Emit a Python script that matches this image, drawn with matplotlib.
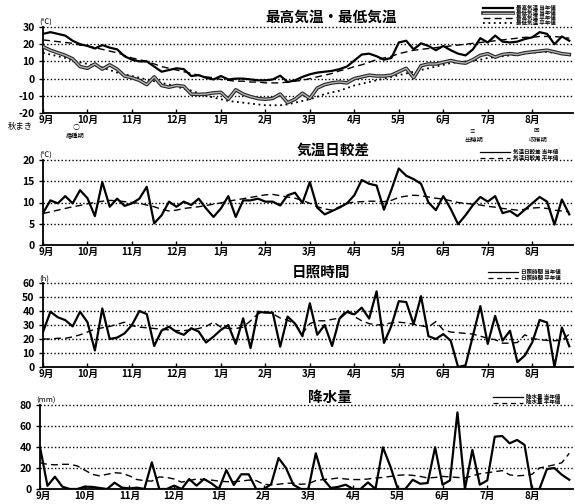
import matplotlib.pyplot as plt
import numpy as np
from matplotlib.lines import Line2D
from matplotlib.transforms import ScaledTranslation

plt.rcParams["font.family"] = ["Noto Sans CJK JP", "DejaVu Sans"]

W, H = 575, 504

MONTHS = ["9月", "10月", "11月", "12月", "1月", "2月", "3月", "4月", "5月", "6月", "7月", "8月"]

# 半旬 (5-day) values, September through August
max_temp = [
    26, 27, 26, 25, 22, 20, 19, 17.5, 19.5, 18, 17, 13,
    11, 10, 10, 7, 4, 5, 6, 5.5, 1.5, 2, 0.5, -0.5,
    1.5, -0.5, 0, 0, -0.5, -1, -1, -0.5, 1.7, -2, -1, 1,
    2.5, 3.5, 4, 4.5, 5.5, 7, 10.5, 14, 14.5, 13, 11, 12,
    21, 22, 17, 20.5, 19, 16.5, 19, 16.5, 14.5, 13.5, 17, 23.5,
    21, 25, 21.5, 21, 21.5, 23, 24, 27, 26, 20, 24.5, 22,
]
max_temp_normal = [
    22.5, 22, 21.5, 21, 20.5, 19.5, 19, 18, 17, 16, 15, 13.5,
    12, 11, 10, 8.5, 7, 6, 5, 4, 3, 2, 1, 0.5,
    -0.5, -1, -1.5, -1.5, -2, -2, -2.5, -2.5, -2.5, -2, -1.5, -1,
    0, 1, 2, 3, 4.5, 5.5, 7, 8, 9.5, 11, 12, 13,
    14.5, 15.5, 16.5, 17, 17.5, 18, 18.5, 19, 19.5, 20, 20.5, 21,
    21.5, 22, 22.5, 23, 23.5, 24, 24, 24.5, 24.5, 24.5, 24, 23.5,
]
min_temp = [
    18.5, 16.5, 15, 13.5, 11.5, 7, 6, 8.5, 5.5, 8, 5.5, 1.5,
    0.5, -1, -3.5, 1, -4, -5, -4, -4.5, -9, -9.2, -9, -8.3,
    -8, -12, -6.5, -9, -10.5, -11.6, -12, -11.5, -9, -14, -12, -8.5,
    -11.5, -5.5, -3.5, -2.5, -2, -2.5, 0, 1, 2, 1.5, 1.5, 2,
    4, 6, 0.5, 7.5, 8.5, 8.5, 9.5, 10.5, 9.5, 9, 11, 13.5,
    14.5, 12.5, 14, 14.5, 14, 15, 15.5, 16, 16.5, 15.5, 14.5, 14,
]
min_temp_normal = [
    15, 14, 13, 12, 10.5, 9.5, 8.5, 7.5, 6.5, 5, 3.5, 2.5,
    1.5, 0.5, -0.5, -1.5, -2.5, -3.5, -4.5, -6, -7, -8.5, -10, -11,
    -12, -13, -13.5, -14, -14.5, -15, -15.5, -15.5, -15.5, -15, -14, -13,
    -12, -10.5, -9, -8, -7, -5.5, -4, -3, -2, -1, 0, 1,
    2, 3, 4, 5, 6, 7, 8, 9, 9.5, 10, 10.5, 11,
    12, 12.5, 13, 13.5, 14, 14.5, 15, 15.5, 15.5, 15, 14.5, 14,
]
temp_range = [
    7.5, 10.5, 9.8, 11.5, 9.8, 12.9, 11, 6.8, 14.8, 9, 10.9, 9.2,
    9.8, 10.9, 13.7, 5.1, 7, 10.2, 9, 10.2, 9.4, 10.9, 8.6, 6.6,
    8.6, 11.5, 6.6, 10.5, 10.5, 10.9, 10.2, 10.2, 9.3, 11.7, 12.3, 9.9,
    14.8, 8.8, 7.2, 8, 8.8, 9.8, 11.7, 15.3, 14.4, 14, 8.3, 13,
    18, 16.3, 15.5, 14.4, 10, 8.2, 11.5, 8.5, 4.9, 7, 9.4, 11.3,
    10.2, 11.5, 7.5, 8, 6.8, 8.3, 9.8, 11.3, 10.2, 4.8, 10.7, 7.2,
]
temp_range_normal = [
    7.4, 7.8, 8.2, 8.6, 9.0, 9.3, 9.7, 10.0, 10.3, 10.5, 10.4, 10.2,
    10.0, 9.8, 9.4, 9.0, 8.4, 8.0, 8.2, 8.6, 8.8, 9.0, 9.3, 9.6,
    9.9, 10.3, 10.6, 10.9, 11.2, 11.5, 11.8, 11.9, 11.6, 11.3, 11.0, 10.5,
    9.8, 9.0, 8.5, 8.2, 9.0, 9.8, 10.1, 10.2, 10.3, 10.3, 10.2, 10.5,
    11.2, 11.5, 11.7, 11.6, 11.3, 11.0, 10.8, 10.4, 10.0, 9.8, 9.6, 9.4,
    9.1, 8.9, 8.6, 8.4, 8.2, 8.4, 8.7, 8.8, 8.6, 8.2, 8.0, 7.8,
]
sunshine = [
    25, 39.5, 35.5, 33.5, 29, 39.5, 32, 11.8, 41.8, 20, 21, 24,
    30, 40, 37.8, 15, 26, 28.8, 25, 23, 27.7, 25.3, 17.5, 21.7,
    26.5, 30, 16.5, 34.8, 13.5, 39.5, 38.8, 38.8, 14.5, 36, 31, 22,
    45.5, 23, 30, 15, 34.6, 39.3, 37.6, 42.4, 34.6, 54, 17.2, 29.4,
    47, 46.4, 30.6, 50.6, 22, 20, 23.5, 18.8, 0, 1.2, 22.4, 43.5,
    16.5, 36.5, 18.8, 25.9, 3.5, 8.2, 17.6, 33.6, 31.8, 0, 28.2, 14.8,
]
sunshine_normal = [
    20, 20, 20.5, 20.5, 21.5, 23, 25, 27, 28, 29, 30.5, 32,
    29.5, 28.5, 28, 27.5, 27, 26.5, 26, 26, 26.5, 27.5, 29, 32,
    28.5, 27.5, 27.5, 28.5, 33, 38, 39.5, 38, 35, 33.5, 30.5, 24,
    31, 33, 33, 34, 35, 41, 36, 33, 31, 30, 30.5, 31.5,
    32, 31.5, 30.5, 29.5, 28.5, 32.5, 26.5, 25, 24.5, 24, 23.5, 22,
    20.5, 19.5, 17, 17, 17.5, 23, 20.5, 19.5, 19, 18.8, 19, 23.5,
]
precip = [
    40, 3, 11.7, 2.2, 0, 0, 2.2, 2, 1, 0, 6, 1.3,
    0.6, 1.3, 0, 25.4, 0, 0, 3.2, 0, 9.5, 3.2, 9.5, 5.4,
    0, 18, 3.8, 14, 14, 0, 0, 4.4, 29.5, 20, 4, 0,
    0, 34, 9.5, 1, 2, 4.1, 0, 0, 6.3, 0, 39.7, 21.5,
    0, 0, 8.8, 5, 5.7, 39.7, 4.1, 8.2, 73, 0, 37.2, 4.1,
    8.2, 49.8, 50.5, 43.5, 46.7, 42, 0, 0, 19, 20, 13.6, 8.8,
]
precip_normal = [
    25, 23.5, 23, 23.5, 23.5, 22, 18, 14, 12.5, 14, 15.5, 15,
    12.5, 9, 8, 7.5, 11.5, 11, 9.5, 6.5, 8, 9.5, 9, 8.5,
    7.5, 7, 7, 7.5, 8.5, 8, 4.5, 4, 4.5, 5.5, 5.5, 4.5,
    5, 8, 9, 9.5, 10.5, 9.5, 9, 9, 9.5, 10.5, 11, 12,
    13, 13.5, 13, 12, 10.5, 11, 12, 11.5, 11, 10.5, 12.5, 14.5,
    15.5, 16.5, 17.5, 13.5, 12.5, 13, 14, 20, 21.5, 23, 25, 34,
]

SOLID = dict(color="black", lw=1.6, linestyle="-")
DASHED = dict(color="black", lw=1.0, linestyle=(0, (5, 3)))
DOTTED = dict(color="black", lw=1.3, linestyle=(0, (1, 2)))
DOUBLE_OUTER = dict(color="0.15", lw=2.6, linestyle="-")
DOUBLE_INNER = dict(color="0.7", lw=1.0, linestyle="-")
THIN_SOLID = dict(color="black", lw=0.9)
THIN_DASHED = dict(color="black", lw=0.9, linestyle=(0, (4, 3)))


def px_rect(left, top, right, bottom):
    return [left / W, 1 - bottom / H, (right - left) / W, (bottom - top) / H]


def fx(x):
    return x / W


def fy(y):
    return 1 - y / H


def setup_axis(fig, ax, ylim, yticks, unit):
    ax.set_xlim(0, 71.5)
    ax.set_ylim(*ylim)
    ax.set_xticks(np.arange(12) * 6)
    ax.set_xticklabels(MONTHS, fontsize=7, fontweight="bold")
    ax.set_yticks(yticks)
    ax.set_yticklabels([str(v) for v in yticks], fontsize=7.5, fontweight="bold")
    ax.tick_params(axis="x", direction="in", length=3, width=1, pad=1.5)
    ax.tick_params(axis="y", direction="out", length=3, width=1, pad=3)
    # nudge "9月" right so it clears the bottom y label
    first = ax.get_xticklabels()[0]
    first.set_transform(first.get_transform()
                        + ScaledTranslation(3 / 100, 0, fig.dpi_scale_trans))
    for side in ("top", "right"):
        ax.spines[side].set_visible(False)
    for side in ("left", "bottom"):
        ax.spines[side].set_linewidth(1.3)
    for v in yticks[1:]:
        ax.axhline(v, color="black", lw=1.0, linestyle=(0, (1, 1.6)),
                   clip_on=False, zorder=1)
    ax.text(-0.5, ylim[1], unit, fontsize=5.5, ha="left", va="bottom")


def draw_legend(fig, x0, y0, entries, dy=5.0, line_len=30, fontsize=4.0):
    for k, (styles, label) in enumerate(entries):
        y = y0 + k * dy
        for style in styles:
            fig.add_artist(Line2D([fx(x0), fx(x0 + line_len)], [fy(y), fy(y)],
                                  transform=fig.transFigure, **style))
        fig.text(fx(x0 + line_len + 3), fy(y), label, fontsize=fontsize,
                 fontweight="bold", ha="left", va="center")


fig = plt.figure(figsize=(W / 100, H / 100), dpi=100)
x = np.arange(72)

# maximum / minimum temperature
ax1 = fig.add_axes(px_rect(43, 27, 573, 113))
setup_axis(fig, ax1, (-20, 30), [-20, -10, 0, 10, 20, 30], "(℃)")
ax1.plot(x, max_temp_normal, zorder=3, **DASHED)
ax1.plot(x, min_temp_normal, zorder=3, **DOTTED)
ax1.plot(x, max_temp, zorder=4, **SOLID)
ax1.plot(x, min_temp, zorder=4, **DOUBLE_OUTER)
ax1.plot(x, min_temp, zorder=5, **DOUBLE_INNER)
fig.text(fx(331), fy(17), "最高気温・最低気温", fontsize=10.5, fontweight="bold",
         ha="center", va="center")
draw_legend(fig, 483, 8, [
    ([SOLID], "最高気温 当年値"),
    ([DOUBLE_OUTER, DOUBLE_INNER], "最低気温 当年値"),
    ([DASHED], "最高気温 平年値"),
    ([DOTTED], "最低気温 平年値"),
])

# crop stage markers under the first panel
fig.text(fx(8), fy(127), "秋まき", fontsize=6, ha="left", va="center")
fig.text(fx(76), fy(128), "○", fontsize=5, ha="center", va="center")
fig.text(fx(75), fy(136), "播種期", fontsize=4.5, ha="center", va="center")
fig.text(fx(472), fy(132), "≡", fontsize=4, ha="center", va="center")
fig.text(fx(474), fy(140), "出穂期", fontsize=4.5, ha="center", va="center")
fig.text(fx(536), fy(131), "回", fontsize=4, ha="center", va="center")
fig.text(fx(538), fy(140), "収穫期", fontsize=4.5, ha="center", va="center")

# daily temperature range
ax2 = fig.add_axes(px_rect(43, 160, 573, 245))
setup_axis(fig, ax2, (0, 20), [0, 5, 10, 15, 20], "(℃)")
ax2.plot(x, temp_range_normal, zorder=3, **DASHED)
ax2.plot(x, temp_range, zorder=4, **SOLID)
fig.text(fx(333), fy(150), "気温日較差", fontsize=10.5, fontweight="bold",
         ha="center", va="center")
draw_legend(fig, 480, 152, [
    ([THIN_SOLID], "気温日較差 当年値"),
    ([THIN_DASHED], "気温日較差 平年値"),
], dy=6)

# sunshine duration
ax3 = fig.add_axes(px_rect(43, 283, 573, 367))
setup_axis(fig, ax3, (0, 60), [0, 10, 20, 30, 40, 50, 60], "(h)")
ax3.plot(x, sunshine_normal, zorder=3, **DASHED)
ax3.plot(x, sunshine, zorder=4, **SOLID)
fig.text(fx(321), fy(272), "日照時間", fontsize=10.5, fontweight="bold",
         ha="center", va="center")
draw_legend(fig, 488, 272, [
    ([THIN_SOLID], "日照時間 当年値"),
    ([THIN_DASHED], "日照時間 平年値"),
], dy=5.5)

# precipitation
ax4 = fig.add_axes(px_rect(40, 405, 573, 489))
setup_axis(fig, ax4, (0, 80), [0, 20, 40, 60, 80], "(mm)")
ax4.plot(x, precip_normal, zorder=3, **DASHED)
ax4.plot(x, precip, zorder=4, **SOLID)
fig.text(fx(330), fy(397), "降水量", fontsize=10.5, fontweight="bold",
         ha="center", va="center")
draw_legend(fig, 493, 397, [
    ([THIN_SOLID], "降水量 当年値"),
    ([THIN_DASHED], "降水量 平年値"),
], dy=5.5)

fig.savefig("out.png", dpi=100)
plt.close(fig)
